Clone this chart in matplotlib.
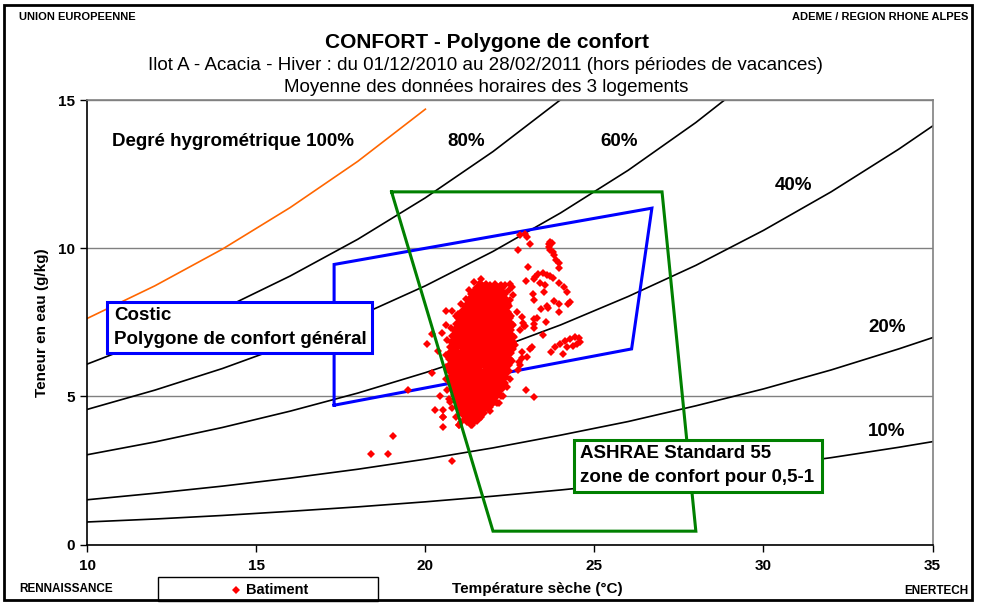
import matplotlib
matplotlib.use("Agg")
import matplotlib.pyplot as plt
from matplotlib.patches import Rectangle
from matplotlib.lines import Line2D

plt.rcParams['font.family'] = ['Liberation Sans', 'DejaVu Sans']

W, H = 988, 604

# ---------------- data ----------------
T_hum = [10, 12, 14, 16, 18, 20, 22, 24, 26, 28, 30, 32, 34, 35]
rh100 = [7.63, 8.73, 9.97, 11.37, 12.93, 14.69]
rh80 = [6.09, 6.97, 7.95, 9.06, 10.30, 11.70, 13.26, 15.01, 16.96]
rh60 = [4.56, 5.21, 5.94, 6.77, 7.70, 8.73, 9.89, 11.19, 12.63, 14.24, 16.03]
rh40 = [3.03, 3.46, 3.95, 4.50, 5.11, 5.80, 6.56, 7.41, 8.37, 9.42, 10.60, 11.90, 13.34, 14.12]
rh20 = [1.51, 1.73, 1.97, 2.24, 2.54, 2.88, 3.26, 3.69, 4.15, 4.68, 5.25, 5.89, 6.60, 6.98]
rh10 = [0.76, 0.86, 0.98, 1.12, 1.27, 1.44, 1.63, 1.84, 2.07, 2.33, 2.62, 2.93, 3.28, 3.47]

ashrae_T = [19.0, 27.0, 28.0, 22.0, 19.0]
ashrae_w = [11.9, 11.9, 0.45, 0.45, 11.9]
costic_T = [17.3, 17.3, 26.7, 26.1, 17.3]
costic_w = [4.7, 9.45, 11.35, 6.6, 4.7]

# dense core of the measurement cloud (rows of equal water content)
core_rows = {
    8.65: [21.55, 21.72, 21.9, 22.08, 22.2],
    8.45: [21.42, 21.6, 21.78, 21.96, 22.14, 22.3],
    8.25: [21.33, 21.5, 21.68, 21.86, 22.04, 22.22, 22.36],
    8.05: [21.22, 21.4, 21.58, 21.76, 21.94, 22.12, 22.3, 22.42],
    7.85: [21.12, 21.3, 21.48, 21.66, 21.84, 22.02, 22.2, 22.38],
    7.65: [21.02, 21.2, 21.38, 21.56, 21.74, 21.92, 22.1, 22.28, 22.45],
    7.45: [20.96, 21.12, 21.3, 21.48, 21.66, 21.84, 22.02, 22.2, 22.38, 22.5],
    7.25: [20.9, 21.04, 21.22, 21.4, 21.58, 21.76, 21.94, 22.12, 22.3, 22.48],
    7.05: [20.86, 21.0, 21.18, 21.36, 21.54, 21.72, 21.9, 22.08, 22.26, 22.44, 22.52],
    6.85: [20.82, 20.96, 21.14, 21.32, 21.5, 21.68, 21.86, 22.04, 22.22, 22.4, 22.52],
    6.65: [20.8, 20.92, 21.1, 21.28, 21.46, 21.64, 21.82, 22.0, 22.18, 22.36, 22.5],
    6.45: [20.76, 20.9, 21.08, 21.26, 21.44, 21.62, 21.8, 21.98, 22.16, 22.34, 22.46],
    6.25: [20.75, 20.86, 21.04, 21.22, 21.4, 21.58, 21.76, 21.94, 22.12, 22.3, 22.44],
    6.05: [20.75, 20.9, 21.08, 21.26, 21.44, 21.62, 21.8, 21.98, 22.16, 22.34, 22.42],
    5.85: [20.75, 20.88, 21.06, 21.24, 21.42, 21.6, 21.78, 21.96, 22.14, 22.32, 22.4],
    5.65: [20.8, 20.92, 21.1, 21.28, 21.46, 21.64, 21.82, 22.0, 22.18, 22.34],
    5.45: [20.8, 20.96, 21.14, 21.32, 21.5, 21.68, 21.86, 22.04, 22.22, 22.3],
    5.25: [20.85, 21.0, 21.18, 21.36, 21.54, 21.72, 21.9, 22.08, 22.2],
    5.05: [20.9, 21.06, 21.24, 21.42, 21.6, 21.78, 21.96, 22.1],
    4.85: [20.96, 21.12, 21.3, 21.48, 21.66, 21.84, 22.0],
    4.65: [21.02, 21.2, 21.38, 21.56, 21.74, 21.86],
    4.45: [21.12, 21.3, 21.48, 21.66],
    4.25: [21.22, 21.4, 21.52],
}

# scattered hourly points around the core
pts_T = [22.80, 22.95, 23.00, 23.10, 22.73, 23.65, 23.69, 23.74, 23.65, 23.69, 23.77, 23.81,
         23.87, 23.94, 23.94, 23.05, 22.98, 23.20, 23.25, 23.34, 23.49, 23.59, 23.69, 23.77,
         23.39, 23.54, 23.51, 23.96, 24.10, 24.20, 24.28, 24.23, 23.18, 23.20, 23.81, 23.94,
         23.59, 23.64, 23.41, 23.96, 23.31, 23.56, 23.20, 23.20, 22.93, 23.49,
         23.72, 23.84, 23.99, 24.13, 24.28, 24.43, 24.53, 24.58, 24.48, 24.36, 24.20, 24.06,
         22.70, 22.85, 22.90, 22.80, 22.60, 22.65, 22.85, 23.00, 22.78, 23.10,
         22.51, 22.56, 22.46, 22.36, 22.60, 22.51, 22.36, 22.46,
         20.04, 20.19, 20.50, 20.61, 20.78, 20.96, 20.60, 20.38, 20.19, 20.43, 20.27, 20.53,
         20.53, 20.51, 20.73, 20.98, 21.22, 21.37, 21.57, 21.86, 22.11, 22.19, 22.31, 22.98,
         23.20, 20.80, 22.85, 22.80, 22.75, 23.15, 22.95, 23.20, 18.39, 18.88, 19.04, 20.51,
         21.00, 21.35, 19.48, 21.62, 21.90, 22.10,
         21.45, 21.80, 22.05, 21.30, 21.20, 21.05, 20.90, 20.75, 20.65, 20.62, 20.60, 20.62,
         20.65, 20.70, 20.80, 20.90, 21.05, 21.40, 21.65, 21.90, 22.05, 22.25, 22.40, 22.50,
         22.55, 22.60, 22.62, 22.58, 22.52, 22.45, 22.35, 22.25, 21.65]
pts_w = [10.43, 10.47, 10.37, 10.13, 9.95, 10.15, 10.21, 10.17, 10.04, 9.93, 9.87, 9.76,
         9.61, 9.50, 9.33, 9.36, 8.89, 8.97, 9.03, 9.14, 9.16, 9.08, 9.05, 9.01,
         8.82, 8.75, 8.52, 8.82, 8.69, 8.52, 8.18, 8.13, 8.44, 8.24, 8.22, 8.13,
         8.04, 7.99, 7.96, 7.85, 7.64, 7.51, 7.43, 7.29, 7.37, 7.06,
         6.50, 6.67, 6.76, 6.87, 6.95, 7.00, 6.98, 6.84, 6.76, 6.69, 6.65, 6.42,
         7.85, 7.68, 7.46, 7.23, 6.84, 6.72, 6.50, 6.33, 6.16, 6.61,
         8.80, 8.69, 8.58, 8.75, 8.41, 8.24, 7.96, 7.79,
         6.76, 7.12, 7.14, 7.87, 7.87, 7.79, 7.40, 6.52, 5.80, 5.02, 4.53, 4.53,
         4.31, 3.97, 4.81, 4.03, 4.14, 4.03, 4.48, 4.59, 4.78, 4.76, 5.01, 5.21,
         4.98, 2.82, 6.28, 6.05, 5.88, 6.67, 7.36, 7.62, 3.04, 3.04, 3.67, 4.29,
         4.03, 4.03, 5.21, 8.81, 8.75, 8.70,
         8.85, 8.80, 8.78, 8.60, 8.30, 8.10, 7.70, 7.30, 6.90, 6.40, 6.00, 5.60,
         5.20, 4.90, 4.60, 4.30, 4.15, 4.10, 4.30, 4.50, 4.80, 5.00, 5.30, 5.60,
         6.20, 6.60, 7.00, 7.40, 7.70, 8.10, 8.50, 8.75, 8.95]

x_ticks = [10, 15, 20, 25, 30, 35]
y_ticks = [0, 5, 10, 15]

curve_labels = [("Degré hygrométrique 100%", 112, 142), ("80%", 447, 142), ("60%", 600, 142),
                ("40%", 775, 185), ("20%", 868, 328), ("10%", 868, 432)]

# ---------------- figure ----------------
fig = plt.figure(figsize=(W / 100, H / 100), dpi=100)
fig.patch.set_facecolor('white')

def fx(px):
    return px / W

def fy(py):
    return 1 - py / H

L, R, T, B = 87.3, 932.5, 100.0, 544.5
ax = fig.add_axes([fx(L), fy(B), (R - L) / W, (B - T) / H])
ax.set_xlim(10, 35)
ax.set_ylim(0, 15)
ax.set_xticks(x_ticks)
ax.set_yticks(y_ticks)
ax.set_axisbelow(True)
ax.yaxis.grid(True, color='#808080', lw=1.0)
for s in ['top', 'right']:
    ax.spines[s].set_color('#808080')
    ax.spines[s].set_linewidth(1.2)
for s in ['left', 'bottom']:
    ax.spines[s].set_color('black')
    ax.spines[s].set_linewidth(1.2)
ax.tick_params(direction='out', length=5, width=1, labelsize=11)
ax.tick_params(axis='x', pad=5.5)
ax.tick_params(axis='y', pad=4)
for lab in ax.get_xticklabels() + ax.get_yticklabels():
    lab.set_fontweight('bold')

# humidity curves
ax.plot(T_hum[:len(rh100)], rh100, color='#FF6600', lw=1.2, zorder=2)
for c in [rh80, rh60, rh40, rh20, rh10]:
    ax.plot(T_hum[:len(c)], c, color='black', lw=1.2, zorder=2)

ax.plot(costic_T, costic_w, color='#0000FF', lw=2.2, zorder=2.5, solid_joinstyle='miter')

core_T = [t for w, row in core_rows.items() for t in row]
core_w = [w for w, row in core_rows.items() for t in row]
ax.plot(core_T, core_w, 'D', ms=6.2, color='#FF0000', mec='#FF0000', mew=0, zorder=3)
ax.plot(pts_T, pts_w, 'D', ms=3.6, color='#FF0000', mec='#FF0000', mew=0, zorder=3)

ax.plot(ashrae_T, ashrae_w, color='#008000', lw=2.2, zorder=4, solid_joinstyle='miter')

LBL = 13.5
for s, px, py in curve_labels:
    fig.text(fx(px), fy(py), s, fontsize=LBL, fontweight='bold', ha='left', va='center')

# text boxes
fig.add_artist(Rectangle((fx(107), fy(353)), (372 - 107) / W, (353 - 302) / H,
                         transform=fig.transFigure, facecolor='white',
                         edgecolor='#0000FF', lw=2.2, zorder=5))
fig.text(fx(114), fy(315), "Costic", fontsize=LBL, fontweight='bold', va='center', zorder=6)
fig.text(fx(114), fy(340), "Polygone de confort général", fontsize=LBL,
         fontweight='bold', va='center', zorder=6)

fig.add_artist(Rectangle((fx(574), fy(492)), (822 - 574) / W, (492 - 440) / H,
                         transform=fig.transFigure, facecolor='white',
                         edgecolor='#008000', lw=2.2, zorder=5))
fig.text(fx(580), fy(454), "ASHRAE Standard 55", fontsize=LBL, fontweight='bold',
         va='center', zorder=6)
fig.text(fx(580), fy(477), "zone de confort pour 0,5-1", fontsize=LBL, fontweight='bold',
         va='center', zorder=6)

# titles and corner texts
fig.text(fx(19), fy(17), "UNION EUROPEENNE", fontsize=8, fontweight='bold', va='center')
fig.text(fx(968), fy(17), "ADEME / REGION RHONE ALPES", fontsize=8, fontweight='bold',
         va='center', ha='right')
fig.text(fx(487), fy(42), "CONFORT - Polygone de confort", fontsize=15, fontweight='bold',
         va='center', ha='center')
fig.text(fx(485), fy(66), "Ilot A - Acacia - Hiver : du 01/12/2010 au 28/02/2011 (hors périodes de vacances)",
         fontsize=13.5, va='center', ha='center')
fig.text(fx(486), fy(88), "Moyenne des données horaires des 3 logements", fontsize=13.5,
         va='center', ha='center')
fig.text(fx(42), fy(323), "Teneur en eau (g/kg)", fontsize=11, fontweight='bold',
         va='center', ha='center', rotation=90)
fig.text(fx(537), fy(589), "Température sèche (°C)", fontsize=11, fontweight='bold',
         va='center', ha='center')
fig.text(fx(19), fy(589), "RENNAISSANCE", fontsize=8.5, fontweight='bold', va='center')
fig.text(fx(968), fy(591), "ENERTECH", fontsize=8.5, fontweight='bold', va='center', ha='right')

# legend
fig.add_artist(Rectangle((fx(158), fy(601)), (378 - 158) / W, (601 - 577) / H,
                         transform=fig.transFigure, facecolor='white',
                         edgecolor='black', lw=1.0, zorder=5))
fig.add_artist(Line2D([fx(236)], [fy(590)], marker='D', ms=4, color='#FF0000', mew=0,
                      transform=fig.transFigure, zorder=6))
fig.text(fx(246), fy(590), "Batiment", fontsize=10.5, fontweight='bold', va='center', zorder=6)

# outer frame
fig.add_artist(Rectangle((fx(4), fy(600)), (972 - 4) / W, (600 - 5) / H,
                         transform=fig.transFigure, facecolor='none',
                         edgecolor='black', lw=2.0, zorder=7))

fig.savefig("out.png", dpi=100, facecolor='white')
